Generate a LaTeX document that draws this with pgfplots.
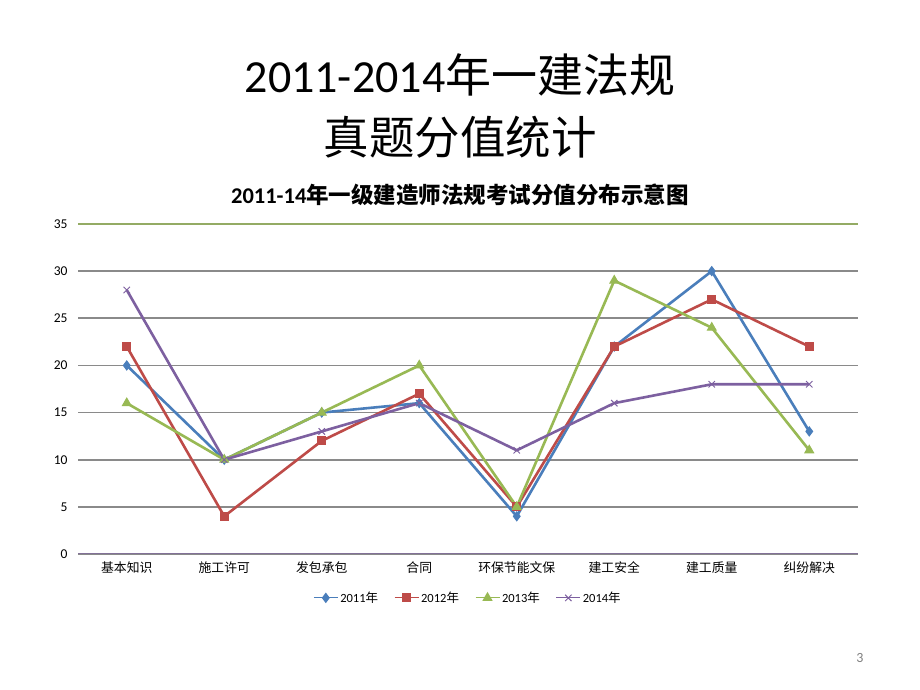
\documentclass[border=0pt]{standalone}
\usepackage{fontspec}
\setmainfont{Carlito}
\newfontfamily\cjk{Noto Sans CJK SC}
\usepackage{pgfplots}
\pgfplotsset{compat=1.18}
\definecolor{c1}{HTML}{4A7EBB}
\definecolor{c2}{HTML}{BE4B48}
\definecolor{c3}{HTML}{98B954}
\definecolor{c4}{HTML}{7D60A0}
\definecolor{gridc}{HTML}{8A8A8A}
\begin{document}
\begin{tikzpicture}
\fill[white] (0,0) rectangle (920pt,690pt);
\node at (460pt,615pt) {\fontsize{46}{52}\selectfont 2011-2014{\cjk 年一建法规}};
\node at (460pt,553pt) {\fontsize{45.5}{52}\selectfont\cjk 真题分值统计};
\node at (460pt,495pt) {\fontsize{22.5}{26}\selectfont\bfseries 2011-14{\cjk\bfseries 年一级建造师法规考试分值分布示意图}};
\node[text=gray] at (860pt,32pt) {\fontsize{14}{16}\selectfont 3};
\begin{axis}[
  at={(78pt,136pt)}, anchor=south west, scale only axis,
  width=780pt, height=330pt,
  xmin=-0.5, xmax=7.5, ymin=0, ymax=35,
  ytick={0,5,...,35}, xtick={0,...,7},
  xticklabels={基本知识,施工许可,发包承包,合同,环保节能文保,建工安全,建工质量,纠纷解决},
  x tick label style={font=\fontsize{12.8}{14}\selectfont\cjk, yshift=-4pt},
  y tick label style={font=\fontsize{13.5}{15}\selectfont, xshift=-7pt},
  /pgf/number format/assume math mode=true,
  axis line style={draw=none},
  major tick length=0pt,
  ymajorgrids, grid style={gridc, line width=1.6pt},
  legend style={at={(0.5,-0.133)}, anchor=center, draw=none, legend columns=4,
    font=\fontsize{12.5}{14}\selectfont, /tikz/every even column/.append style={column sep=14pt}},
  legend image code/.code={\draw[#1, line width=1pt] (0pt,0pt) -- (24pt,0pt); \path[#1, mark repeat=1] plot coordinates {(12pt,0pt)};},
  every axis plot/.append style={line width=2.6pt, mark options={solid, line width=1pt}},
]
\draw[c3!70!gridc, line width=1.3pt] (axis cs:-0.5,35) -- (axis cs:7.5,35);
\draw[c4!60!gridc, line width=1.6pt] (axis cs:-0.5,0) -- (axis cs:7.5,0);
\addplot[c1, mark=diamond*, mark size=4.5pt] coordinates {(0,20)(1,10)(2,15)(3,16)(4,4)(5,22)(6,30)(7,13)};
\addlegendentry{2011{\cjk 年}}
\addplot[c2, mark=square*, mark size=4pt] coordinates {(0,22)(1,4)(2,12)(3,17)(4,5)(5,22)(6,27)(7,22)};
\addlegendentry{2012{\cjk 年}}
\addplot[c3, mark=triangle*, mark size=5pt] coordinates {(0,16)(1,10)(2,15)(3,20)(4,5)(5,29)(6,24)(7,11)};
\addlegendentry{2013{\cjk 年}}
\addplot[c4, mark=x, mark size=4.5pt] coordinates {(0,28)(1,10)(2,13)(3,16)(4,11)(5,16)(6,18)(7,18)};
\addlegendentry{2014{\cjk 年}}
\end{axis}
\end{tikzpicture}
\end{document}
